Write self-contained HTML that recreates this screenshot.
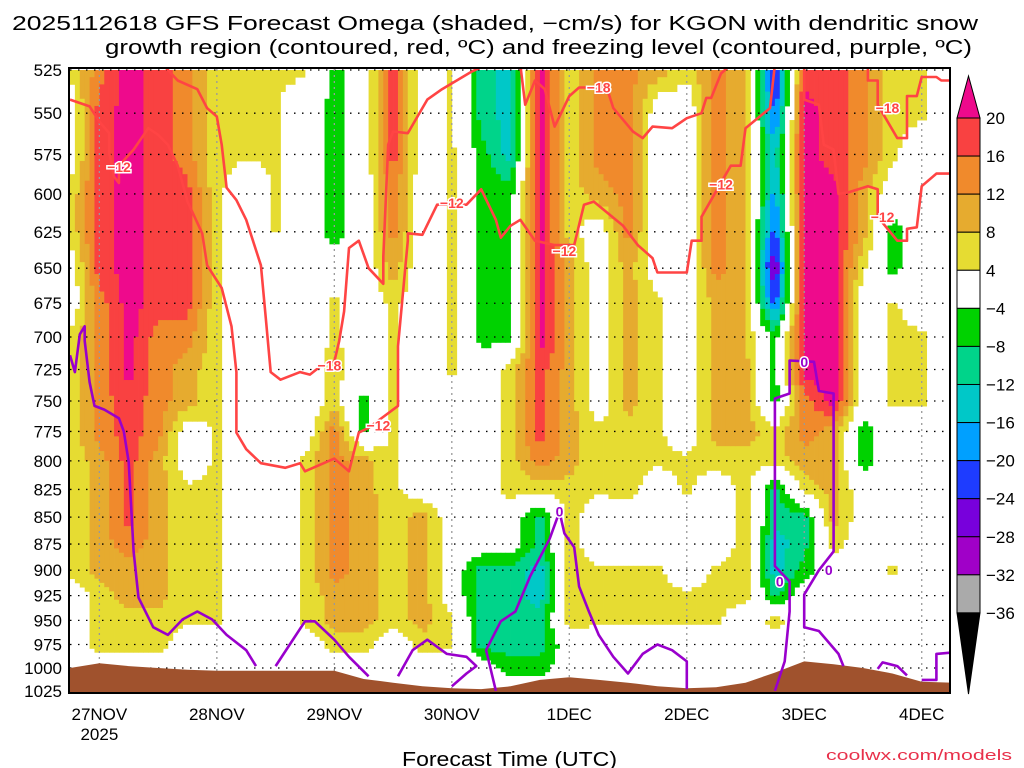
<!DOCTYPE html>
<html><head><meta charset="utf-8">
<style>
html,body{margin:0;padding:0;background:#fff;}
svg{display:block;font-family:"Liberation Sans",sans-serif;}
</style></head>
<body>
<svg id="chart" width="1024" height="768" viewBox="0 0 1024 768">
<text x="12" y="30" textLength="966" lengthAdjust="spacingAndGlyphs" font-size="20">2025112618 GFS Forecast Omega (shaded, −cm/s) for KGON with dendritic snow</text>
<text x="105" y="54" textLength="867" lengthAdjust="spacingAndGlyphs" font-size="20">growth region (contoured, red, ºC) and freezing level (contoured, purple, ºC)</text>
<defs><clipPath id="plotclip"><rect x="70" y="69" width="880" height="623"/></clipPath></defs>
<g id="shade" clip-path="url(#plotclip)"></g>
<g id="grid"></g>
<g id="surface" clip-path="url(#plotclip)"></g>
<g id="contours" clip-path="url(#plotclip)"></g>
<rect x="69" y="68" width="881" height="625" fill="none" stroke="#000" stroke-width="2"/>
<g id="yaxis"></g>
<g id="xaxis"></g>
<text x="402" y="766" textLength="215" lengthAdjust="spacingAndGlyphs" font-size="20">Forecast Time (UTC)</text>
<text x="826" y="760" textLength="186" lengthAdjust="spacingAndGlyphs" font-size="15" fill="#e8304a">coolwx.com/models</text>
<g id="cbar"></g>
</svg>
<script>
const NS="http://www.w3.org/2000/svg";
const levels=[525,550,575,600,625,650,675,700,725,750,775,800,825,850,875,900,925,950,975,1000,1025];
const hours=[0,6,12,18,24,30,36,42,48,54,60,66,72,78,84,90,96,102,108,114,120,126,132,138,144,150,156,162,168,174,180];
const omega=[
[5,0,0,5,5,0,0,5,5,5,5,5,5,5,5,5,0,0,0,0,0],
[14,18,18,18,18,18,14,14,14,14,14,10,10,10,10,10,6,6,6,0,0],
[22,22,22,22,22,22,22,22,22,18,18,18,18,18,14,10,10,6,6,0,0],
[18,18,18,18,18,18,18,14,14,14,14,10,10,10,10,10,10,6,6,0,0],
[14,14,14,18,18,18,18,14,10,10,0,0,5,5,5,5,5,5,0,0,0],
[5,5,5,5,5,5,5,5,5,5,5,5,5,5,5,5,5,5,0,0,0],
[4.6,4.6,4.6,0,0,0,0,0,0,0,0,0,0,0,0,0,0,0,0,0,0],
[4.6,4.6,4.6,4.6,4.6,0,0,0,0,0,0,0,0,0,0,0,0,0,0,0,0],
[5,0,0,0,0,0,0,0,0,0,0,5,5,5,5,5,5,5,0,0,0],
[-6,-6,-6,-6,-6,0,5,5,6,6,14,14,14,14,14,14,10,10,6,0,0],
[0,0,0,0,0,0,0,0,0,-6,-6,10,10,10,10,10,10,10,6,0,0],
[18,18,18,14,14,10,5,5,5,5,5,5,5,6,6,6,6,6,0,0,0],
[0,0,0,0,0,0,0,0,0,0,0,0,0,10,10,10,10,10,6,0,0],
[5,5,5,5,5,5,5,5,5,0,0,0,0,0,0,0,0,5,5,0,0],
[-10,-10,-6,-6,-6,-6,-6,-6,0,0,0,0,0,0,0,-10,-10,-10,-10,0,0],
[-14,-14,-14,-6,-6,-6,-6,-6,6,6,6,6,6,0,0,-10,-10,-10,-10,-6,0],
[22,22,22,22,22,22,22,22,18,18,18,14,6,-10,-10,-14,-14,-10,-10,-6,0],
[6,6,6,6,6,10,10,10,10,10,10,10,6,6,6,6,6,6,0,0,0],
[14,14,14,10,0,0,0,0,0,0,5,5,5,0,0,5,5,5,0,0,0],
[14,14,14,14,14,10,10,10,10,10,6,6,6,0,0,5,5,5,0,0,0],
[10,0,0,0,0,0,5,5,5,5,5,5,0,0,0,5,5,5,0,0,0],
[5,0,0,0,0,0,0,0,0,0,0,5,5,0,0,0,5,5,0,0,0],
[14,14,14,14,14,14,10,10,10,10,10,6,0,0,0,5,5,5,0,0,0],
[8,8,8,8,8,8,8,8,10,10,10,6,6,6,6,6,6,0,0,0,0],
[-26,-22,-14,-18,-22,-30,-22,-6,-6,-6,6,6,-10,-10,-14,-14,-10,6,0,0,0],
[18,22,22,22,22,22,22,22,22,14,14,10,6,-10,-10,-6,0,0,0,0,0],
[18,18,18,22,22,22,22,22,22,22,10,10,10,10,6,0,0,0,0,0,0],
[14,14,14,10,10,5,0,0,0,0,-6,-6,0,0,0,0,0,0,0,0,0],
[5,5,5,0,-6,-6,5,5,5,5,0,0,0,0,0,5,0,0,0,0,0],
[5,5,0,0,0,0,0,5,5,5,0,0,0,0,0,0,0,0,0,0,0],
[0,0,0,0,0,0,0,0,0,0,0,0,0,0,0,0,0,0,0,0,0]
];
const surfacePressure=[1000,995,998,1000,1002,1003,1003,1003,1003,1003,1012,1016,1020,1022,1023,1020,1013,1010,1013,1016,1020,1022,1021,1016,1005,993,996,1000,1006,1015,1016];
const dgz12a=[[0,542],[4,546],[6,555],[8,562],[8,574],[9,589],[10,593],[10,582],[13,572],[16,559],[18,563],[20,569],[22,582],[24,605],[27,626],[28,648],[31,664],[33,692],[34,727],[34,776],[36,790],[39,802],[44,806],[47,802],[48,809],[54,798],[57,809],[59,776],[61,772],[67,754],[67,707],[69,631],[69,626],[72,627],[75,607],[81,607],[84,597],[87,617],[88,629],[90,621],[92,617],[95,631],[99,634],[103,634],[105,607],[107,605],[113,621],[116,634],[119,643],[120,653],[126,653],[127,631],[129,631],[129,615],[135,582],[137,582],[138,559],[143,547],[144,522]];
const dgz18a=[[19,522],[22,531],[26,536],[28,547],[30,552],[31,569],[32,596],[34,604],[36,617],[39,648],[40,686],[41,727],[43,733],[47,727],[49,729],[51,723],[54,719],[55,703],[56,681],[57,636],[59,631],[61,650],[64,661],[64,642],[65,569],[66,561],[69,562],[73,542],[76,536],[82,526],[85,522]];
const dgz18b=[[92,522],[93,545],[95,531],[97,536],[99,558],[100,552],[102,540],[104,535],[108,535],[110,538],[111,547],[115,561],[117,565],[119,558],[123,559],[126,553],[129,550],[130,541],[131,541],[133,527],[135,522]];
const dgz12b=[[150,522],[150,542],[153,545],[154,569],[156,572],[157,600],[159,599],[163,595],[165,597],[165,615],[169,631],[171,631],[171,623],[173,622],[174,595],[177,587],[181,587]];
const dgz18c=[[163,522],[163,531],[165,531],[165,545],[169,565],[171,565],[171,540],[173,540],[174,529],[177,529],[178,531],[181,531]];
const frz1=[[0,714],[1,727],[2,698],[3,692],[3,703],[4,735],[5,754],[7,757],[10,764],[11,775],[12,801],[13,882],[14,927],[17,957],[20,965],[23,949],[26,941],[29,949],[32,965],[36,981],[38,998]];
const frz2=[[42,998],[48,951],[50,951],[54,970],[57,988],[61,1009]];
const frz3=[[67,1009],[70,981],[73,970],[77,985],[81,988],[83,998],[81,1006],[78,1020]];
const frz4=[[87,1025],[85,981],[88,951],[91,941],[94,906],[98,870],[100,845],[101,865],[103,878],[104,916],[106,941],[108,965],[111,988],[114,1006],[117,985],[120,975],[123,981],[126,993],[126,1023]];
const frz5=[[144,1025],[146,993],[147,941],[147,911],[144,896],[144,748],[147,744],[147,718],[152,719],[153,742],[156,744],[156,882],[153,900],[150,924],[150,957],[153,961],[157,985],[158,998]];
const frz6=[[165,1001],[166,994],[169,998],[171,1008]];
const frz7=[[174,1013],[177,1013],[177,985],[181,983]];
const labels12=[[10,583],[63,770],[78,606],[101,638],[133,594],[166,615]];
const labels18=[[53,722],[108,535],[167,547]];
const labels0=[[100,845],[150,719],[145,911],[155,900]];
const dayTicks=["27NOV","28NOV","29NOV","30NOV","1DEC","2DEC","3DEC","4DEC"];
const dayHours=[6,30,54,78,102,126,150,174];
const cbarTicks=[20,16,12,8,4,-4,-8,-12,-16,-20,-24,-28,-32,-36];
const cbarColors=["#f94141","#f08a2c","#e6ab2f","#e6dc32","#ffffff","#00d200","#00d48a","#00c8c8","#00a0ff","#1e3cff","#7800dc","#a000c8","#aaaaaa"];

const xOf=h=>70+h*4.895;
const yOf=p=>70+928*Math.log(p/525);
function colorOf(v){
  if(v>20)return "#ee0a8c";
  if(v<-36)return "#000";
  for(let i=0;i<cbarTicks.length-1;i++){ if(v<=cbarTicks[i]&&v>cbarTicks[i+1])return cbarColors[i]; }
  return "#fff";
}
function mk(tag,attrs,parent){const e=document.createElementNS(NS,tag);for(const k in attrs)e.setAttribute(k,attrs[k]);parent.appendChild(e);return e;}

const shade=document.getElementById('shade');
const SUBX=6,SUBY=6;
for(let k=0;k<hours.length-1;k++){
  for(let s=0;s<SUBX;s++){
    const fx=(s+0.5)/SUBX;
    const h0=hours[k]+(hours[k+1]-hours[k])*s/SUBX, h1=hours[k]+(hours[k+1]-hours[k])*(s+1)/SUBX;
    const x0=xOf(h0),x1=xOf(h1);
    let runStart=null,runColor=null,runEnd=null;
    const flush=()=>{ if(runColor&&runColor!=="#ffffff"){
        const r=mk('rect',{x:x0.toFixed(2),y:runStart.toFixed(2),width:(x1-x0+0.4).toFixed(2),height:(runEnd-runStart+0.4).toFixed(2),fill:runColor},shade);
        
        
      }};
    for(let j=0;j<levels.length-1;j++){
      const lp0=Math.log(levels[j]),lp1=Math.log(levels[j+1]);
      for(let t=0;t<SUBY;t++){
        const fy=(t+0.5)/SUBY;
        const a=omega[k][j],b=omega[k+1][j],c=omega[k][j+1],d=omega[k+1][j+1];
        const v=(a*(1-fx)+b*fx)*(1-fy)+(c*(1-fx)+d*fx)*fy;
        const col=colorOf(v);
        const ya=yOf(Math.exp(lp0+(lp1-lp0)*t/SUBY)), yb=yOf(Math.exp(lp0+(lp1-lp0)*(t+1)/SUBY));
        if(col===runColor){runEnd=yb;}else{flush();runColor=col;runStart=ya;runEnd=yb;}
      }
    }
    flush();
  }
}

const grid=document.getElementById('grid');
levels.forEach(p=>{
  const l=mk('line',{x1:70,x2:950,y1:yOf(p),y2:yOf(p),stroke:"#000","stroke-width":1.3,"stroke-dasharray":"1.5,6.5"},grid);
  
  
});
dayHours.forEach(h=>{
  const l=mk('line',{x1:xOf(h),x2:xOf(h),y1:69,y2:692,stroke:"#999","stroke-width":1.3,"stroke-dasharray":"2,4"},grid);
  
  
});

const surf=document.getElementById('surface');
let sp="M"+xOf(hours[0])+",700";
hours.forEach((h,i)=>{sp+=" L"+xOf(h).toFixed(1)+","+yOf(surfacePressure[i]).toFixed(1);});
sp+=" L"+xOf(hours[hours.length-1])+",700 Z";
const sPath=mk('path',{d:sp,fill:"#a0522d"},surf);



const cg=document.getElementById('contours');
function line(pts,color,name){
  const d=pts.map((q,i)=>(i?"L":"M")+xOf(q[0]).toFixed(1)+","+yOf(q[1]).toFixed(1)).join(" ");
  const p=mk('path',{d:d,fill:"none",stroke:color,"stroke-width":2.6,"stroke-linejoin":"round"},cg);
  
  
}
[dgz12a,dgz12b].forEach(a=>line(a,"#ff4444","dgz-minus12-contour"));
[dgz18a,dgz18b,dgz18c].forEach(a=>line(a,"#ff4444","dgz-minus18-contour"));
[frz1,frz2,frz3,frz4,frz5,frz6,frz7].forEach(a=>line(a,"#9900cc","freezing-level-contour"));
function lab(list,txt,color,name){
  list.forEach(q=>{
    const t=mk('text',{x:xOf(q[0]),y:yOf(q[1])+5,"text-anchor":"middle","font-size":14,"font-weight":"bold",fill:color,stroke:"#fff","stroke-width":3,"paint-order":"stroke"},cg);
    t.textContent=txt;
    
    
  });
}
lab(labels12,"−12","#ff4444","contour-label-minus12");
lab(labels18,"−18","#ff4444","contour-label-minus18");
lab(labels0,"0","#9900cc","contour-label-zero");

const ya=document.getElementById('yaxis');
levels.forEach(p=>{
  const t=mk('text',{x:62,y:yOf(p)+6,"text-anchor":"end","font-size":17},ya);
  t.textContent=p;
  
  
});
const xa=document.getElementById('xaxis');
dayTicks.forEach((d,i)=>{
  const t=mk('text',{x:xOf(dayHours[i]),y:720,"text-anchor":"middle","font-size":17},xa);
  t.textContent=d;
  
  
});
const yr=mk('text',{x:xOf(dayHours[0]),y:740,"text-anchor":"middle","font-size":17},xa);
yr.textContent="2025";



const cb=document.getElementById('cbar');
const cbTop=118,cbH=38.07,cbX=957,cbW=23;
const tri1=mk('path',{d:`M${cbX},${cbTop} L${cbX+cbW/2},76 L${cbX+cbW},${cbTop} Z`,fill:"#ee0a8c",stroke:"#000","stroke-width":1},cb);


cbarColors.forEach((c,i)=>{
  const r=mk('rect',{x:cbX,y:cbTop+i*cbH,width:cbW,height:cbH,fill:c,stroke:"#000","stroke-width":1},cb);
  
  
});
const bot=cbTop+cbarColors.length*cbH;
const tri2=mk('path',{d:`M${cbX},${bot} L${cbX+cbW/2},694 L${cbX+cbW},${bot} Z`,fill:"#000",stroke:"#000","stroke-width":1},cb);


cbarTicks.forEach((v,i)=>{
  const t=mk('text',{x:986,y:cbTop+i*cbH+6,"font-size":17},cb);
  t.textContent=v<0?"−"+(-v):String(v);
  
  
});
</script>
</body></html>
